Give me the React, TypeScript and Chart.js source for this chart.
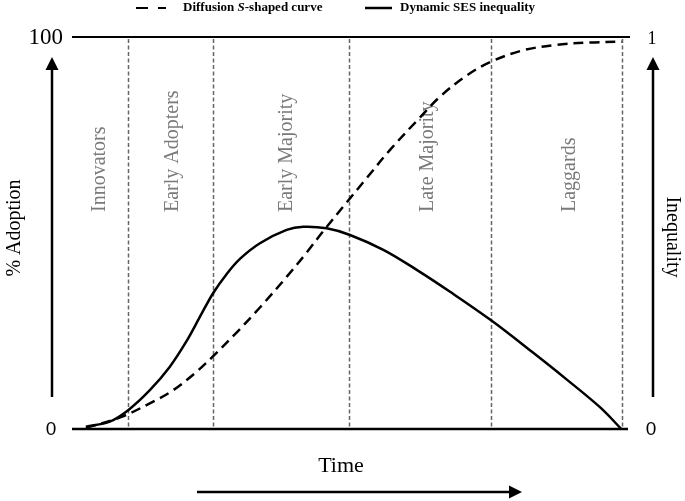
import React, { useEffect, useRef } from "react";
import { Chart, registerables } from "chart.js";

Chart.register(...registerables);

// Time axis (0..100), adoption (%) and inequality (0..1)
const diffusionX = [2.5, 8.9, 14.6, 18.2, 22.4, 25.4, 29.6, 33.8, 38.6, 42.2, 45.2, 49.4, 53.0, 57.2, 62.6, 66.2, 71.0, 75.2, 81.1, 87.2, 93.2, 98.9];
const diffusionY = [0.3, 3.1, 7.0, 9.9, 14.6, 18.6, 24.6, 31.0, 38.8, 45.0, 50.5, 57.8, 64.0, 71.2, 79.5, 84.8, 90.2, 93.6, 96.6, 98.0, 98.6, 98.8];

const inequalityX = [2.5, 6.8, 10.1, 14.0, 17.6, 20.6, 23.0, 25.4, 27.8, 30.2, 33.8, 38.6, 41.6, 45.8, 50.0, 56.0, 62.0, 68.0, 75.5, 82.9, 89.0, 95.0, 98.8];
const inequalityY = [0.006, 0.019, 0.048, 0.099, 0.159, 0.224, 0.286, 0.347, 0.395, 0.434, 0.474, 0.508, 0.516, 0.512, 0.495, 0.457, 0.406, 0.35, 0.276, 0.195, 0.126, 0.055, 0.0];

const phaseBoundaries = [10.1, 25.4, 49.8, 75.3, 99.0];
const phaseNames = ["Innovators", "Early Adopters", "Early Majority", "Late Majority", "Laggards"];
const phaseLabelX = [5.0, 18.2, 38.7, 64.0, 89.6];

const leftTicks = ["0", "100"];
const rightTicks = ["0", "1"];
const seriesNames = ["Diffusion S-shaped curve", "Dynamic SES inequality"];

const SERIF = '"Liberation Serif", "Times New Roman", serif';
const SANS = '"Liberation Sans", Arial, sans-serif';

function arrow(ctx: CanvasRenderingContext2D, x1: number, y1: number, x2: number, y2: number) {
  const ang = Math.atan2(y2 - y1, x2 - x1);
  const len = 13;
  const hw = 6.5;
  const bx = x2 - len * Math.cos(ang);
  const by = y2 - len * Math.sin(ang);
  ctx.beginPath();
  ctx.moveTo(x1, y1);
  ctx.lineTo(bx, by);
  ctx.lineWidth = 2.5;
  ctx.strokeStyle = "#000";
  ctx.stroke();
  ctx.beginPath();
  ctx.moveTo(x2, y2);
  ctx.lineTo(bx - hw * Math.sin(ang), by + hw * Math.cos(ang));
  ctx.lineTo(bx + hw * Math.sin(ang), by - hw * Math.cos(ang));
  ctx.closePath();
  ctx.fillStyle = "#000";
  ctx.fill();
}

const decorPlugin = {
  id: "decor",
  beforeDatasetsDraw(chart: any) {
    const { ctx, chartArea, scales } = chart;
    const xs = scales.x;
    ctx.save();
    // phase dividers
    ctx.strokeStyle = "#666";
    ctx.lineWidth = 1.5;
    ctx.setLineDash([4, 2.5]);
    phaseBoundaries.forEach((b) => {
      const px = Math.round(xs.getPixelForValue(b)) + 0.5;
      ctx.beginPath();
      ctx.moveTo(px, chartArea.top + 2);
      ctx.lineTo(px, chartArea.bottom);
      ctx.stroke();
    });
    ctx.setLineDash([]);
    // phase labels
    ctx.fillStyle = "#7a7a7a";
    ctx.font = `20px ${SERIF}`;
    ctx.textAlign = "left";
    ctx.textBaseline = "middle";
    phaseNames.forEach((n, i) => {
      const px = xs.getPixelForValue(phaseLabelX[i]);
      ctx.save();
      ctx.translate(px, 212);
      ctx.rotate(-Math.PI / 2);
      ctx.fillText(n, 0, 0);
      ctx.restore();
    });
    ctx.restore();
  },
  afterDatasetsDraw(chart: any) {
    const { ctx, chartArea } = chart;
    ctx.save();
    // top and bottom lines
    ctx.strokeStyle = "#000";
    ctx.lineWidth = 2;
    ctx.beginPath();
    ctx.moveTo(chartArea.left, chartArea.top);
    ctx.lineTo(chartArea.right + 2, chartArea.top);
    ctx.stroke();
    ctx.lineWidth = 2.5;
    ctx.beginPath();
    ctx.moveTo(chartArea.left, chartArea.bottom);
    ctx.lineTo(chartArea.right, chartArea.bottom);
    ctx.stroke();

    // tick labels
    ctx.fillStyle = "#000";
    ctx.textBaseline = "middle";
    ctx.font = `23px ${SERIF}`;
    ctx.textAlign = "right";
    ctx.fillText(leftTicks[1], 63, chartArea.top + 1);
    ctx.font = `19px ${SANS}`;
    ctx.textAlign = "center";
    ctx.fillText(leftTicks[0], 51, chartArea.bottom + 1);
    ctx.fillText(rightTicks[0], 651, chartArea.bottom + 1);
    ctx.font = `18px ${SERIF}`;
    ctx.fillText(rightTicks[1], 652, chartArea.top + 2);

    // axis titles
    ctx.font = `20px ${SERIF}`;
    ctx.save();
    ctx.translate(15, 228);
    ctx.rotate(-Math.PI / 2);
    ctx.fillText("% Adoption", 0, 0);
    ctx.restore();
    ctx.save();
    ctx.translate(672, 237);
    ctx.rotate(Math.PI / 2);
    ctx.fillText("Inequality", 0, 0);
    ctx.restore();
    ctx.font = `22px ${SERIF}`;
    ctx.fillText("Time", 341, 466);

    // arrows
    arrow(ctx, 52, 397, 52, 57);
    arrow(ctx, 653, 397, 653, 57);
    arrow(ctx, 197, 492, 522, 492);

    // legend
    ctx.lineWidth = 2.2;
    ctx.strokeStyle = "#000";
    ctx.setLineDash([12, 10]);
    ctx.beginPath();
    ctx.moveTo(136, 8);
    ctx.lineTo(166, 8);
    ctx.stroke();
    ctx.setLineDash([]);
    ctx.lineWidth = 2.5;
    ctx.beginPath();
    ctx.moveTo(365, 8);
    ctx.lineTo(392, 8);
    ctx.stroke();
    ctx.textAlign = "left";
    ctx.textBaseline = "middle";
    const parts = seriesNames[0].split("S-");
    let x = 183;
    ctx.font = `bold 13px ${SERIF}`;
    ctx.fillText(parts[0], x, 8);
    x += ctx.measureText(parts[0]).width;
    ctx.font = `italic bold 13px ${SERIF}`;
    ctx.fillText("S", x, 8);
    x += ctx.measureText("S").width;
    ctx.font = `bold 13px ${SERIF}`;
    ctx.fillText("-" + parts[1], x, 8);
    ctx.fillText(seriesNames[1], 400, 8);
    ctx.restore();
  },
};

export default function App() {
  const ref = useRef<HTMLCanvasElement>(null);
  useEffect(() => {
    document.body.style.margin = "0";
    const chart = new Chart(ref.current!, {
      type: "line",
      data: {
        datasets: [
          {
            label: seriesNames[0],
            data: diffusionX.map((x, i) => ({ x, y: diffusionY[i] })),
            borderColor: "#000",
            borderWidth: 2.5,
            borderDash: [10, 6],
            pointRadius: 0,
            tension: 0.35,
            yAxisID: "y",
            fill: false,
          },
          {
            label: seriesNames[1],
            data: inequalityX.map((x, i) => ({ x, y: inequalityY[i] })),
            borderColor: "#000",
            borderWidth: 2.5,
            pointRadius: 0,
            tension: 0.35,
            yAxisID: "y1",
            fill: false,
          },
        ],
      },
      options: {
        animation: false,
        responsive: false,
        layout: { padding: { left: 72, right: 57, top: 37, bottom: 72 } },
        plugins: { legend: { display: false }, tooltip: { enabled: false } },
        scales: {
          x: { type: "linear", min: 0, max: 100, display: false },
          y: { type: "linear", min: 0, max: 100, display: false },
          y1: { type: "linear", min: 0, max: 1, display: false },
        },
      },
      plugins: [decorPlugin],
    });
    return () => chart.destroy();
  }, []);
  return (
    <div style={{ position: "absolute", left: 0, top: 0, width: 685, height: 501, background: "#fff" }}>
      <canvas ref={ref} width={685} height={501} />
    </div>
  );
}
